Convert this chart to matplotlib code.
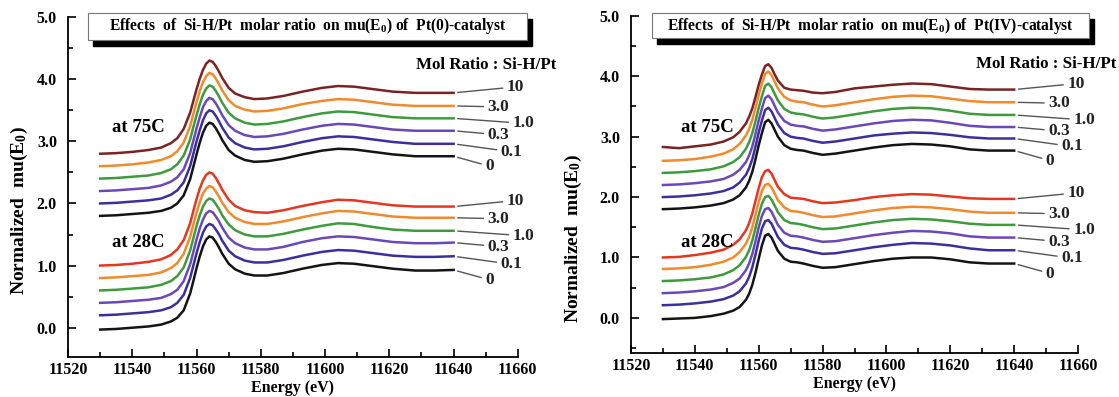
import matplotlib
matplotlib.use("Agg")
import matplotlib.pyplot as plt
from matplotlib.patches import Rectangle
from matplotlib.ticker import MultipleLocator, FormatStrFormatter

plt.rcParams['font.family'] = ['Liberation Serif', 'DejaVu Serif']
plt.rcParams['font.weight'] = 'bold'
plt.rcParams['mathtext.fontset'] = 'custom'
plt.rcParams['mathtext.rm'] = 'Liberation Serif:bold'
plt.rcParams['mathtext.bf'] = 'Liberation Serif:bold'
plt.rcParams['mathtext.default'] = 'bf'

# ---- data ----
ratios = ["0", "0.1", "0.3", "1.0", "3.0", "10"]

# Pt(0) catalyst
E_L = [11530, 11535, 11540, 11545, 11549, 11552, 11554, 11556, 11558, 11559, 11560, 11561,
       11562, 11563, 11564, 11565, 11566, 11567, 11568, 11570, 11572, 11575, 11578, 11582,
       11587, 11593, 11599, 11604, 11609, 11615, 11621, 11628, 11634, 11640]

L28_0 = [-0.03, -0.02, 0.00, 0.02, 0.05, 0.10, 0.16, 0.28, 0.55, 0.75, 0.96, 1.15, 1.31, 1.42, 1.47, 1.45, 1.38, 1.29, 1.19, 1.03, 0.94, 0.87, 0.84, 0.84, 0.88, 0.95, 1.01, 1.04, 1.03, 0.99, 0.95, 0.92, 0.92, 0.93]
L28_01 = [0.20, 0.21, 0.23, 0.25, 0.28, 0.33, 0.40, 0.53, 0.80, 1.00, 1.20, 1.38, 1.53, 1.63, 1.67, 1.65, 1.58, 1.50, 1.40, 1.24, 1.15, 1.08, 1.05, 1.05, 1.09, 1.16, 1.22, 1.25, 1.24, 1.20, 1.16, 1.14, 1.14, 1.15]
L28_03 = [0.40, 0.41, 0.43, 0.45, 0.48, 0.54, 0.61, 0.75, 1.02, 1.22, 1.42, 1.60, 1.74, 1.84, 1.88, 1.86, 1.79, 1.71, 1.61, 1.45, 1.36, 1.29, 1.26, 1.26, 1.30, 1.38, 1.44, 1.47, 1.46, 1.42, 1.38, 1.36, 1.36, 1.37]
L28_1 = [0.60, 0.61, 0.63, 0.65, 0.69, 0.75, 0.83, 0.97, 1.24, 1.44, 1.64, 1.81, 1.95, 2.04, 2.08, 2.06, 1.99, 1.91, 1.81, 1.66, 1.57, 1.50, 1.47, 1.47, 1.51, 1.58, 1.64, 1.68, 1.67, 1.62, 1.58, 1.56, 1.56, 1.56]
L28_3 = [0.80, 0.81, 0.83, 0.85, 0.89, 0.96, 1.04, 1.19, 1.46, 1.66, 1.85, 2.02, 2.16, 2.24, 2.28, 2.26, 2.19, 2.11, 2.01, 1.86, 1.77, 1.70, 1.67, 1.67, 1.71, 1.78, 1.84, 1.88, 1.87, 1.83, 1.79, 1.77, 1.77, 1.77]
L28_10 = [1.00, 1.01, 1.03, 1.06, 1.10, 1.17, 1.26, 1.41, 1.68, 1.88, 2.07, 2.24, 2.37, 2.46, 2.50, 2.48, 2.41, 2.32, 2.22, 2.06, 1.96, 1.89, 1.86, 1.85, 1.89, 1.96, 2.02, 2.06, 2.05, 2.01, 1.97, 1.95, 1.95, 1.95]

L75_0 = [1.80, 1.81, 1.83, 1.85, 1.88, 1.93, 2.00, 2.13, 2.39, 2.59, 2.79, 2.98, 3.14, 3.25, 3.30, 3.28, 3.21, 3.12, 3.02, 2.86, 2.77, 2.70, 2.67, 2.68, 2.72, 2.79, 2.85, 2.88, 2.87, 2.83, 2.79, 2.76, 2.76, 2.76]
L75_01 = [2.00, 2.01, 2.03, 2.05, 2.08, 2.14, 2.21, 2.34, 2.60, 2.80, 3.00, 3.18, 3.34, 3.45, 3.50, 3.48, 3.41, 3.32, 3.22, 3.06, 2.97, 2.90, 2.87, 2.88, 2.92, 2.99, 3.05, 3.08, 3.07, 3.03, 2.99, 2.96, 2.96, 2.96]
L75_03 = [2.20, 2.21, 2.23, 2.25, 2.29, 2.35, 2.42, 2.55, 2.81, 3.01, 3.21, 3.39, 3.55, 3.65, 3.70, 3.68, 3.61, 3.52, 3.42, 3.26, 3.17, 3.10, 3.07, 3.08, 3.12, 3.19, 3.25, 3.28, 3.27, 3.23, 3.19, 3.17, 3.17, 3.17]
L75_1 = [2.40, 2.41, 2.43, 2.45, 2.49, 2.55, 2.63, 2.77, 3.03, 3.23, 3.42, 3.60, 3.75, 3.85, 3.90, 3.88, 3.81, 3.72, 3.62, 3.46, 3.37, 3.30, 3.27, 3.28, 3.32, 3.39, 3.45, 3.48, 3.47, 3.43, 3.39, 3.37, 3.37, 3.37]
L75_3 = [2.60, 2.61, 2.63, 2.66, 2.70, 2.76, 2.84, 2.98, 3.24, 3.44, 3.63, 3.81, 3.95, 4.05, 4.10, 4.08, 4.01, 3.92, 3.82, 3.66, 3.57, 3.51, 3.48, 3.49, 3.53, 3.60, 3.65, 3.68, 3.67, 3.63, 3.59, 3.57, 3.57, 3.57]
L75_10 = [2.80, 2.81, 2.83, 2.86, 2.90, 2.97, 3.05, 3.20, 3.46, 3.65, 3.84, 4.01, 4.15, 4.25, 4.30, 4.28, 4.21, 4.12, 4.02, 3.86, 3.77, 3.71, 3.68, 3.69, 3.73, 3.80, 3.86, 3.89, 3.88, 3.84, 3.80, 3.78, 3.78, 3.78]

# Pt(IV) catalyst
E_R = [11530, 11535, 11540, 11545, 11549, 11552, 11554, 11556, 11557, 11558, 11559, 11560,
       11561, 11562, 11563, 11564, 11565, 11566, 11568, 11570, 11572, 11574, 11577, 11580,
       11584, 11590, 11596, 11602, 11608, 11614, 11620, 11626, 11632, 11640]

R28_0 = [-0.02, -0.01, 0.00, 0.03, 0.07, 0.12, 0.18, 0.30, 0.40, 0.55, 0.75, 0.98, 1.20, 1.36, 1.39, 1.33, 1.22, 1.11, 0.98, 0.93, 0.92, 0.90, 0.86, 0.83, 0.84, 0.89, 0.94, 0.98, 1.00, 1.00, 0.97, 0.92, 0.90, 0.90]
R28_01 = [0.21, 0.22, 0.24, 0.27, 0.31, 0.37, 0.44, 0.57, 0.68, 0.84, 1.05, 1.28, 1.48, 1.60, 1.62, 1.56, 1.45, 1.34, 1.21, 1.16, 1.15, 1.13, 1.09, 1.06, 1.07, 1.12, 1.17, 1.21, 1.24, 1.23, 1.20, 1.15, 1.12, 1.12]
R28_03 = [0.41, 0.42, 0.44, 0.47, 0.51, 0.58, 0.65, 0.79, 0.90, 1.06, 1.27, 1.50, 1.69, 1.80, 1.82, 1.76, 1.65, 1.54, 1.41, 1.36, 1.35, 1.33, 1.29, 1.26, 1.27, 1.32, 1.37, 1.41, 1.44, 1.43, 1.40, 1.35, 1.33, 1.33]
R28_1 = [0.61, 0.62, 0.64, 0.67, 0.72, 0.79, 0.87, 1.01, 1.12, 1.28, 1.49, 1.71, 1.89, 2.00, 2.02, 1.96, 1.86, 1.75, 1.62, 1.57, 1.56, 1.54, 1.50, 1.47, 1.48, 1.53, 1.58, 1.62, 1.64, 1.63, 1.60, 1.56, 1.54, 1.54]
R28_3 = [0.81, 0.82, 0.84, 0.88, 0.93, 1.00, 1.09, 1.23, 1.34, 1.50, 1.71, 1.92, 2.10, 2.20, 2.22, 2.16, 2.06, 1.95, 1.83, 1.77, 1.76, 1.74, 1.70, 1.67, 1.68, 1.73, 1.78, 1.82, 1.84, 1.83, 1.80, 1.76, 1.74, 1.74]
R28_10 = [1.00, 1.01, 1.04, 1.08, 1.13, 1.21, 1.30, 1.45, 1.57, 1.73, 1.94, 2.15, 2.33, 2.43, 2.45, 2.39, 2.28, 2.17, 2.05, 1.99, 1.98, 1.97, 1.93, 1.90, 1.91, 1.95, 2.00, 2.03, 2.05, 2.04, 2.01, 1.98, 1.97, 1.97]

R75_0 = [1.80, 1.81, 1.83, 1.86, 1.90, 1.96, 2.03, 2.16, 2.27, 2.42, 2.63, 2.86, 3.06, 3.24, 3.28, 3.22, 3.11, 3.00, 2.86, 2.80, 2.78, 2.77, 2.73, 2.70, 2.72, 2.77, 2.82, 2.86, 2.88, 2.87, 2.84, 2.79, 2.77, 2.77]
R75_01 = [2.00, 2.01, 2.03, 2.06, 2.10, 2.16, 2.24, 2.37, 2.48, 2.63, 2.84, 3.07, 3.27, 3.44, 3.48, 3.42, 3.31, 3.20, 3.06, 3.00, 2.98, 2.97, 2.93, 2.90, 2.92, 2.97, 3.02, 3.05, 3.07, 3.06, 3.03, 2.99, 2.97, 2.97]
R75_03 = [2.20, 2.21, 2.23, 2.26, 2.30, 2.37, 2.45, 2.58, 2.69, 2.84, 3.05, 3.27, 3.47, 3.64, 3.68, 3.62, 3.51, 3.40, 3.26, 3.20, 3.18, 3.17, 3.13, 3.10, 3.12, 3.17, 3.22, 3.26, 3.28, 3.27, 3.23, 3.18, 3.16, 3.16]
R75_1 = [2.40, 2.41, 2.43, 2.46, 2.51, 2.58, 2.66, 2.80, 2.91, 3.06, 3.26, 3.48, 3.67, 3.84, 3.88, 3.82, 3.71, 3.60, 3.46, 3.40, 3.38, 3.37, 3.33, 3.30, 3.32, 3.37, 3.42, 3.46, 3.48, 3.47, 3.43, 3.38, 3.36, 3.36]
R75_3 = [2.60, 2.61, 2.63, 2.67, 2.72, 2.79, 2.88, 3.02, 3.13, 3.28, 3.48, 3.69, 3.88, 4.04, 4.08, 4.02, 3.91, 3.80, 3.66, 3.60, 3.58, 3.57, 3.53, 3.50, 3.52, 3.57, 3.62, 3.66, 3.68, 3.67, 3.63, 3.59, 3.57, 3.57]
R75_10 = [2.83, 2.81, 2.84, 2.87, 2.92, 2.99, 3.08, 3.22, 3.33, 3.47, 3.66, 3.86, 4.03, 4.17, 4.20, 4.14, 4.03, 3.93, 3.81, 3.78, 3.77, 3.76, 3.73, 3.72, 3.74, 3.80, 3.83, 3.86, 3.88, 3.87, 3.83, 3.79, 3.78, 3.78]

colors_28 = ["#141414", "#3b2f9e", "#6a48b8", "#3d9b3d", "#f28a2c", "#e6361f"]
colors_75 = ["#141414", "#3b2f9e", "#6a48b8", "#3d9b3d", "#f28a2c", "#7a2323"]

# label positions (pixels from curve end), bottom curve first
lab_off = [(36, -10), (58, -8), (45, -4), (70, -5), (45, -1), (62, 6)]

panels = [
    dict(E=E_L, c28=[L28_0, L28_01, L28_03, L28_1, L28_3, L28_10],
         c75=[L75_0, L75_01, L75_03, L75_1, L75_3, L75_10],
         rect=[0.0608, 0.101, 0.402, 0.856], ymin=-0.47, ylab=(-0.085, 0.43),
         title="Effects  of  Si-H/Pt  molar ratio  on mu(E$_0$) of  Pt(0)-catalyst",
         box=(88, 13, 527, 40), t75=(11542, 3.22), t28=(11542, 1.37), mol=(486, 65)),
    dict(E=E_R, c28=[R28_0, R28_01, R28_03, R28_1, R28_3, R28_10],
         c75=[R75_0, R75_01, R75_03, R75_1, R75_3, R75_10],
         rect=[0.5639, 0.111, 0.3995, 0.849], ymin=-0.58, ylab=(-0.105, 0.34),
         title="Effects  of  Si-H/Pt  molar ratio  on mu(E$_0$) of  Pt(IV)-catalyst",
         box=(652, 13, 1089, 38), t75=(11544, 3.16), t28=(11544, 1.24), mol=(1046, 64)),
]

W, H = 1119, 397
fig = plt.figure(figsize=(W / 100, H / 100), dpi=100)

for p in panels:
    ax = fig.add_axes(p["rect"])
    for group, cols in ((p["c28"], colors_28), (p["c75"], colors_75)):
        for i, y in enumerate(group):
            ax.plot(p["E"], y, color=cols[i], lw=1.8, solid_joinstyle='round')
            ax.annotate(ratios[i], xy=(p["E"][-1], y[-1]), xytext=lab_off[i],
                        textcoords='offset pixels', ha='center', va='center',
                        fontsize=12.5, fontweight='bold', color='#222222',
                        arrowprops=dict(arrowstyle='-', color='#555555', lw=1.0,
                                        shrinkA=1, shrinkB=3))
    ax.set_xlim(11520, 11660)
    ax.set_ylim(p["ymin"], 5.0)
    ax.spines['top'].set_visible(False)
    ax.spines['right'].set_visible(False)
    for s in ('left', 'bottom'):
        ax.spines[s].set_linewidth(1.3)
    ax.xaxis.set_major_locator(MultipleLocator(20))
    ax.xaxis.set_minor_locator(MultipleLocator(10))
    ax.yaxis.set_major_locator(MultipleLocator(1.0))
    ax.yaxis.set_minor_locator(MultipleLocator(0.5))
    ax.yaxis.set_major_formatter(FormatStrFormatter('%.1f'))
    ax.tick_params(which='both', direction='in', width=1.2, labelsize=11.5)
    ax.tick_params(which='major', length=6)
    ax.tick_params(which='minor', length=3.5)
    ax.tick_params(axis='y', pad=8)
    ax.tick_params(axis='x', pad=4)
    ax.set_xlabel("Energy (eV)", fontsize=11.5, fontweight='bold', labelpad=1)
    ax.set_ylabel("Normalized  mu(E$_0$)", fontsize=14, fontweight='bold')
    ax.yaxis.set_label_coords(*p["ylab"])
    ax.text(p["t75"][0], p["t75"][1], "at 75C", fontsize=13.5, fontweight='bold',
            ha='center', va='center')
    ax.text(p["t28"][0], p["t28"][1], "at 28C", fontsize=13.5, fontweight='bold',
            ha='center', va='center')

    # title box with black shadow
    x0, y0, x1, y1 = p["box"]
    fig.add_artist(Rectangle(((x0 + 5) / W, 1 - (y1 + 6) / H), (x1 - x0) / W, (y1 - y0) / H,
                             transform=fig.transFigure, facecolor='black', edgecolor='black',
                             zorder=5))
    fig.add_artist(Rectangle((x0 / W, 1 - y1 / H), (x1 - x0) / W, (y1 - y0) / H,
                             transform=fig.transFigure, facecolor='white', edgecolor='#777777',
                             lw=0.8, zorder=6))
    fig.text((x0 + x1) / 2 / W, 1 - (y0 + y1) / 2 / H, p["title"], ha='center', va='center',
             fontsize=11.2, fontweight='bold', zorder=7)
    fig.text(p["mol"][0] / W, 1 - p["mol"][1] / H, "Mol Ratio : Si-H/Pt", ha='center',
             va='center', fontsize=12.2, fontweight='bold')

fig.savefig("out.png", dpi=100)
